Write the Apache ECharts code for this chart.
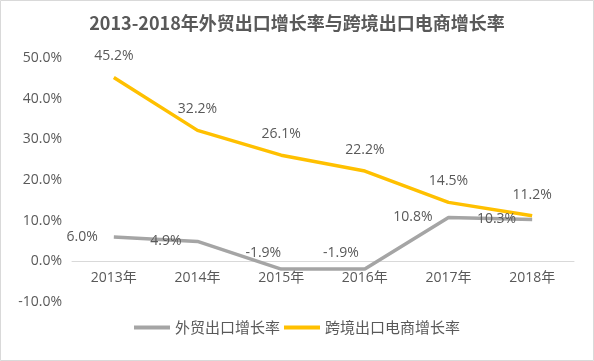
<!DOCTYPE html>
<html>
<head>
<meta charset="utf-8">
<script src="https://cdn.jsdelivr.net/npm/echarts@6/dist/echarts.min.js"></script>
<style>
html,body{margin:0;padding:0;background:#fff;}
#chart{width:594px;height:361px;}
</style>
</head>
<body>
<div id="chart"></div>
<script>
var categories = ['2013年', '2014年', '2015年', '2016年', '2017年', '2018年'];
var tradeGrowth = [6.0, 4.9, -1.9, -1.9, 10.8, 10.3];
var ecomGrowth = [45.2, 32.2, 26.1, 22.2, 14.5, 11.2];
var seriesNames = ['外贸出口增长率', '跨境出口电商增长率'];
var titleText = '2013-2018年外贸出口增长率与跨境出口电商增长率';

var FONT = '"Open Sans", "Noto Sans CJK SC", sans-serif';
var TXT = '#595959';
var grayLabelOffsets = [[0, 0], [0, 0], [16, -16], [10, -16], [0, 0], [0, 0]];

var chart = echarts.init(document.getElementById('chart'));
chart.setOption({
  animation: false,
  backgroundColor: '#fff',
  textStyle: { fontFamily: FONT },
  title: {
    text: titleText,
    left: 'center',
    top: 9,
    textStyle: { fontFamily: '"Noto Sans CJK SC", sans-serif', fontSize: 18, fontWeight: 'bold', color: TXT }
  },
  graphic: [{
    type: 'rect', shape: { x: 0.5, y: 0.5, width: 593, height: 360 },
    style: { fill: 'none', stroke: '#d9d9d9', lineWidth: 1 }, silent: true
  }],
  grid: { left: 72, right: 20, top: 58, bottom: 59, containLabel: false },
  legend: {
    bottom: 21,
    left: 'center',
    itemWidth: 36,
    itemHeight: 4,
    itemGap: 4,
    icon: 'rect',
    textStyle: { fontFamily: '"Noto Sans CJK SC", sans-serif', fontSize: 15, color: TXT, padding: [0, 0, 0, 0] },
    data: seriesNames
  },
  xAxis: {
    type: 'category',
    data: categories,
    boundaryGap: true,
    offset: -40.7,
    axisLine: { onZero: false, lineStyle: { color: '#d9d9d9', width: 1 } },
    axisTick: { show: false },
    axisLabel: { color: TXT, fontSize: 14, margin: 10, fontFamily: FONT }
  },
  yAxis: {
    type: 'value',
    min: -10, max: 50, interval: 10,
    axisLine: { show: false },
    axisTick: { show: false },
    splitLine: { show: false },
    axisLabel: { color: TXT, fontSize: 14, margin: 10, fontFamily: FONT,
      formatter: function (v) { return v.toFixed(1) + '%'; } }
  },
  series: [
    {
      name: seriesNames[0], type: 'line', symbol: 'circle', symbolSize: 0.01, showSymbol: true,
      color: '#A5A5A5',
      itemStyle: { color: '#A5A5A5' },
      lineStyle: { color: '#A5A5A5', width: 3.5 },
      data: tradeGrowth.map(function (v, i) {
        return { value: v, label: { offset: grayLabelOffsets[i] } };
      }),
      label: {
        show: true, position: 'left', distance: 16,
        color: TXT, fontSize: 14, fontFamily: FONT,
        formatter: function (p) { return p.value.toFixed(1) + '%'; }
      },
      z: 3
    },
    {
      name: seriesNames[1], type: 'line', symbol: 'circle', symbolSize: 0.01, showSymbol: true,
      color: '#FFC000',
      itemStyle: { color: '#FFC000' },
      lineStyle: { color: '#FFC000', width: 3.5 },
      data: ecomGrowth,
      label: {
        show: true, position: 'top', distance: 14,
        color: TXT, fontSize: 14, fontFamily: FONT,
        formatter: function (p) { return p.value.toFixed(1) + '%'; }
      },
      z: 2
    }
  ]
});
</script>
</body>
</html>
